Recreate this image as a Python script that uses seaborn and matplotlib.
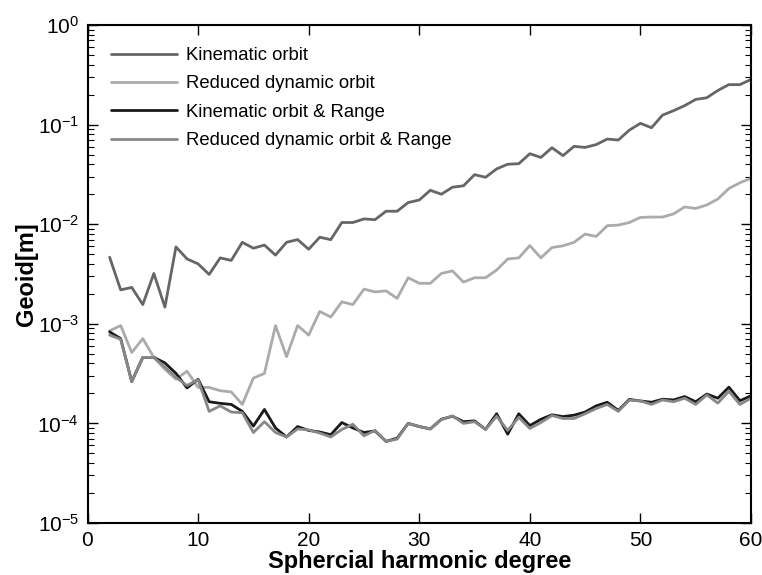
import numpy as np
import pandas as pd
import matplotlib
matplotlib.use("Agg")
import matplotlib.pyplot as plt
from matplotlib import font_manager
import seaborn as sns
from matplotlib.ticker import LogLocator, FixedLocator

degrees = list(range(2, 61))

kinematic = [4.66e-3, 2.19e-3, 2.32e-3, 1.56e-3, 3.2e-3, 1.47e-3, 5.92e-3, 4.48e-3, 4.0e-3,
             3.13e-3, 4.59e-3, 4.33e-3, 6.58e-3, 5.74e-3, 6.17e-3, 4.89e-3, 6.58e-3, 7.01e-3,
             5.6e-3, 7.4e-3, 7.0e-3, 1.04e-2, 1.04e-2, 1.13e-2, 1.11e-2, 1.35e-2, 1.35e-2,
             1.65e-2, 1.75e-2, 2.19e-2, 2.0e-2, 2.35e-2, 2.43e-2, 3.14e-2, 2.96e-2, 3.59e-2,
             4.0e-2, 4.05e-2, 5.1e-2, 4.68e-2, 5.86e-2, 4.88e-2, 6.05e-2, 5.9e-2, 6.3e-2,
             7.16e-2, 7.0e-2, 8.8e-2, 1.03e-1, 9.3e-2, 1.245e-1, 1.38e-1, 1.55e-1, 1.79e-1,
             1.86e-1, 2.2e-1, 2.52e-1, 2.52e-1, 2.84e-1]

reduced_dynamic = [8.5e-4, 9.6e-4, 5.15e-4, 7.1e-4, 4.6e-4, 3.5e-4, 2.78e-4, 3.34e-4, 2.3e-4,
                   2.3e-4, 2.13e-4, 2.07e-4, 1.55e-4, 2.85e-4, 3.18e-4, 9.6e-4, 4.68e-4, 9.6e-4,
                   7.7e-4, 1.33e-3, 1.17e-3, 1.66e-3, 1.56e-3, 2.23e-3, 2.09e-3, 2.14e-3, 1.8e-3,
                   2.9e-3, 2.55e-3, 2.55e-3, 3.2e-3, 3.4e-3, 2.62e-3, 2.9e-3, 2.9e-3, 3.47e-3,
                   4.48e-3, 4.59e-3, 6.1e-3, 4.59e-3, 5.83e-3, 6.07e-3, 6.58e-3, 7.96e-3, 7.53e-3,
                   9.66e-3, 9.8e-3, 1.04e-2, 1.17e-2, 1.18e-2, 1.18e-2, 1.27e-2, 1.49e-2, 1.44e-2,
                   1.56e-2, 1.79e-2, 2.28e-2, 2.61e-2, 2.89e-2]

kinematic_range = [8.3e-4, 7.1e-4, 2.63e-4, 4.6e-4, 4.6e-4, 4.05e-4, 3.18e-4, 2.27e-4, 2.78e-4,
                   1.65e-4, 1.59e-4, 1.55e-4, 1.32e-4, 9.4e-5, 1.38e-4, 9.0e-5, 7.3e-5, 9.3e-5,
                   8.5e-5, 8.2e-5, 7.7e-5, 1.02e-4, 9.0e-5, 8.1e-5, 8.4e-5, 6.6e-5, 7.1e-5,
                   1.0e-4, 9.3e-5, 8.8e-5, 1.1e-4, 1.18e-4, 1.04e-4, 1.06e-4, 8.7e-5, 1.25e-4,
                   7.8e-5, 1.25e-4, 9.5e-5, 1.1e-4, 1.22e-4, 1.17e-4, 1.21e-4, 1.3e-4, 1.5e-4,
                   1.63e-4, 1.35e-4, 1.74e-4, 1.68e-4, 1.63e-4, 1.75e-4, 1.72e-4, 1.86e-4, 1.65e-4,
                   1.97e-4, 1.79e-4, 2.31e-4, 1.69e-4, 1.89e-4]

reduced_dynamic_range = [7.7e-4, 7.0e-4, 2.63e-4, 4.6e-4, 4.6e-4, 3.68e-4, 2.9e-4, 2.4e-4, 2.75e-4,
                         1.32e-4, 1.5e-4, 1.3e-4, 1.28e-4, 8.1e-5, 1.04e-4, 8.1e-5, 7.3e-5, 8.8e-5,
                         8.6e-5, 8.0e-5, 7.3e-5, 8.7e-5, 9.8e-5, 7.5e-5, 8.5e-5, 6.6e-5, 6.95e-5,
                         1.0e-4, 9.3e-5, 8.8e-5, 1.09e-4, 1.19e-4, 1.0e-4, 1.04e-4, 8.7e-5, 1.18e-4,
                         8.5e-5, 1.15e-4, 8.9e-5, 1.02e-4, 1.2e-4, 1.12e-4, 1.12e-4, 1.25e-4, 1.41e-4,
                         1.55e-4, 1.32e-4, 1.71e-4, 1.68e-4, 1.55e-4, 1.72e-4, 1.65e-4, 1.79e-4, 1.55e-4,
                         1.93e-4, 1.6e-4, 2.1e-4, 1.55e-4, 1.79e-4]

labels = ["Kinematic orbit", "Reduced dynamic orbit",
          "Kinematic orbit & Range", "Reduced dynamic orbit & Range"]
colors = ["#666666", "#ababab", "#1a1a1a", "#888888"]
x_ticks = [0, 10, 20, 30, 40, 50, 60]

sns.set_style("ticks")
plt.rcParams["font.family"] = ["Liberation Sans", "DejaVu Sans"]
plt.rcParams["mathtext.default"] = "regular"
for k in ["text.color", "axes.labelcolor", "xtick.color", "ytick.color"]:
    plt.rcParams[k] = "black"
tick_size, label_size = 15, 17

frames = []
for name, vals in zip(labels, [kinematic, reduced_dynamic, kinematic_range, reduced_dynamic_range]):
    frames.append(pd.DataFrame({"degree": degrees, "value": vals, "series": name}))
df = pd.concat(frames, ignore_index=True)

W, H = 762, 575
left, right, top, bottom = 87.5, 751.0, 25.0, 523.0
fig = plt.figure(figsize=(W / 100, H / 100), dpi=100)
ax = fig.add_axes([left / W, 1 - bottom / H, (right - left) / W, (bottom - top) / H])

sns.lineplot(data=df, x="degree", y="value", hue="series", hue_order=labels,
             palette=dict(zip(labels, colors)), linewidth=2.0, ax=ax, legend=True)

ax.set_yscale("log")
ax.set_xlim(0, 60)
ax.set_ylim(1e-5, 1)
ax.xaxis.set_major_locator(FixedLocator(x_ticks))
ax.yaxis.set_major_locator(LogLocator(base=10, numticks=10))
ax.yaxis.set_minor_locator(LogLocator(base=10, subs=np.arange(2, 10), numticks=10))

ax.tick_params(axis="both", which="major", direction="in", length=7, width=1.0,
               top=True, right=True, labelsize=tick_size, color="black")
ax.tick_params(axis="x", which="major", pad=6)
ax.tick_params(axis="y", which="major", pad=6)
ax.tick_params(axis="y", which="minor", direction="in", length=4, width=0.8,
               left=True, right=True)
for s in ax.spines.values():
    s.set_linewidth(1.5)
    s.set_color("black")

ax.set_xlabel("Sphercial harmonic degree", fontsize=label_size, fontweight="bold")
ax.set_ylabel("Geoid[m]", fontsize=label_size, fontweight="bold")
ax.xaxis.set_label_coords(0.5, (bottom - 550) / (bottom - top))
ax.yaxis.set_label_coords((38 - left) / (right - left), 0.5)

leg = ax.legend(loc="upper left", frameon=False,
                prop={"family": ["Liberation Sans", "DejaVu Sans"], "size": 13.3},
                handlelength=3.57, handletextpad=0.5, labelspacing=0.62,
                borderaxespad=0.0, borderpad=0.0,
                bbox_to_anchor=((110.7 - left) / (right - left), 1 - (47 - top) / (bottom - top)))
for line in leg.get_lines():
    line.set_linewidth(2.0)

fig.savefig("out.png", dpi=100)
